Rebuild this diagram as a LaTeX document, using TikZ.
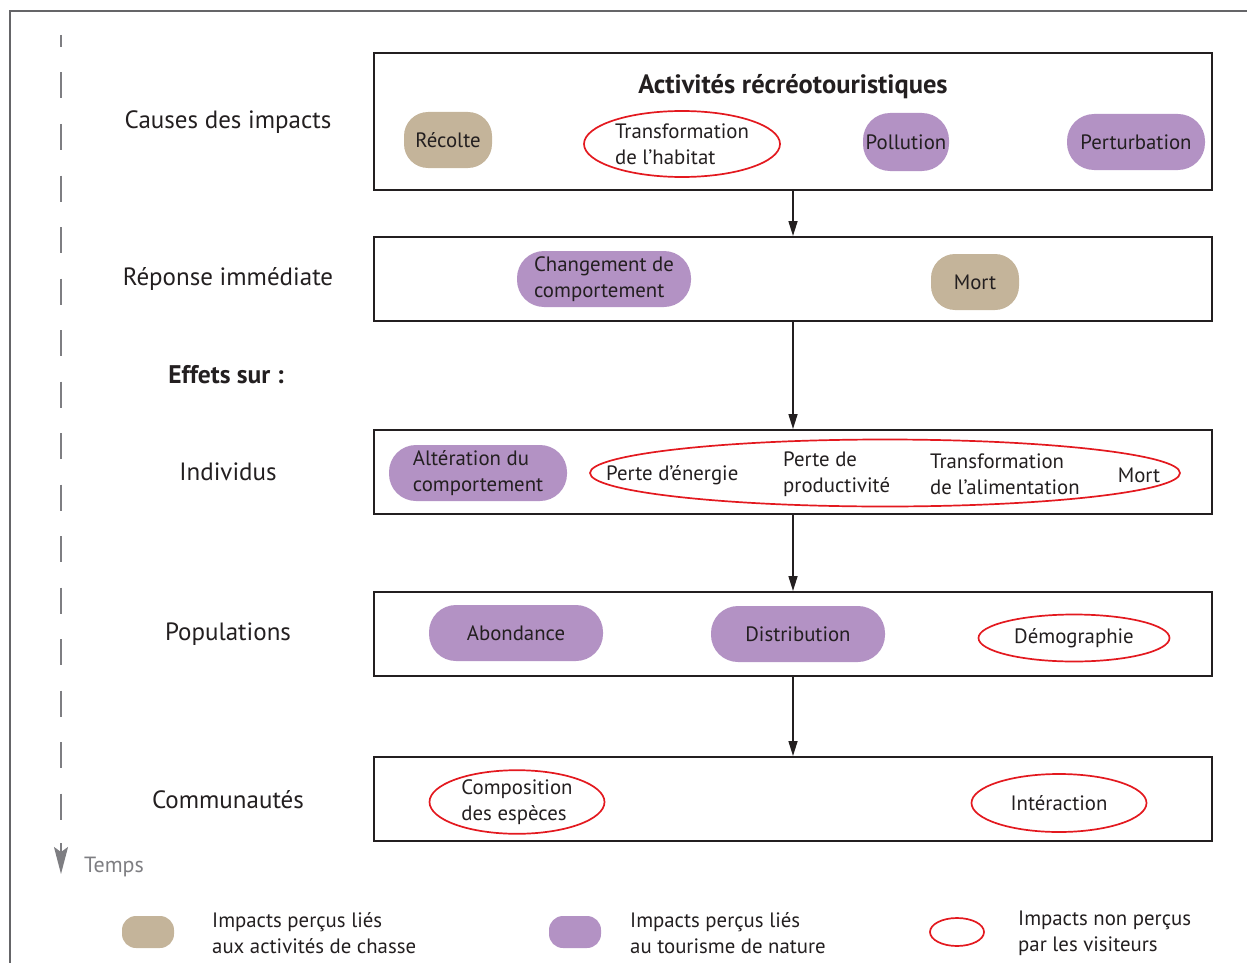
\documentclass[tikz,border=0pt]{standalone}
\usepackage{fontspec}
\setmainfont{PT Sans}
\usepackage{xcolor}
\usetikzlibrary{positioning,arrows.meta,shapes.geometric}
\definecolor{chasse}{HTML}{C4B49A}
\definecolor{nature}{HTML}{B392C4}
\definecolor{nonpercu}{HTML}{E3191F}
\definecolor{tempsgray}{HTML}{7E7E82}
\definecolor{ink}{HTML}{231F20}

\begin{document}
\begin{tikzpicture}[
  x=1pt, y=-1pt,
  level/.style={draw=ink, line width=2pt, minimum width=838pt, minimum height=84pt, inner sep=0pt},
  lbl/.style={font=\fontsize{25}{28}\selectfont, text=ink},
  itm/.style={font=\fontsize{20.8}{26}\selectfont, align=left, inner sep=0pt, text=ink},
  hunt/.style={itm, fill=chasse, rounded corners=24pt, minimum width=88pt, minimum height=56pt},
  tour/.style={itm, fill=nature, rounded corners=27pt, minimum height=56pt},
  unseen/.style={itm, ellipse, draw=nonpercu, line width=1.7pt, minimum height=60pt},
  arr/.style={-{Triangle[length=15pt,width=9pt]}, line width=1.6pt, draw=ink}
]
\useasboundingbox (0,0) rectangle (1247,963);
\draw[tempsgray!80!black, line width=1.2pt] (10,963) -- (10,11) -- (1247,11);

\node[level, minimum height=137pt] (cause) at (793,121.5) {};
\node[level] (rep) at (793,279) {};
\node[level] (indiv) at (793,472) {};
\node[level] (pop) at (793,634) {};
\node[level] (comm) at (793,799) {};
\draw[arr] (cause) -- (rep);
\draw[arr] (rep) -- (indiv);
\draw[arr] (indiv) -- (pop);
\draw[arr] (pop) -- (comm);

\node[lbl] (lcause) at (228,122) {Causes des impacts};
\node[lbl] (lrep) at (228,279) {Réponse immédiate};
\node[lbl, font=\fontsize{25.5}{28}\selectfont\bfseries] (leffets) at (226,375) {Effets sur :};
\node[lbl] (lindiv) at (228,472) {Individus};
\node[lbl] (lpop) at (228,634) {Populations};
\node[lbl] (lcomm) at (228,800) {Communautés};

\node[itm, font=\fontsize{26.5}{30}\selectfont\bfseries] (titre) at (793,87) {Activités récréotouristiques};
\node[hunt] (recolte) at (448,140) {Récolte};
\node[unseen, minimum width=196pt, minimum height=66pt] (habitat) at (682,144) {Transformation\\de l’habitat};
\node[tour, minimum width=86pt, minimum height=58pt] (pollution) at (906,142) {Pollution};
\node[tour, minimum width=138pt] (perturb) at (1136,142) {Perturbation};

\node[tour, minimum width=174pt] (changement) at (604,279) {Changement de\\comportement};
\node[hunt] (mort) at (975,282) {Mort};

\node[tour, minimum width=178pt] (alteration) at (478,473) {Altération du\\comportement};
\node[unseen, minimum width=590pt, minimum height=67pt] (effets) at (885,473) {};
\node[itm, anchor=west] (energie) at (606,475) {Perte d’énergie};
\node[itm, anchor=west] (product) at (783,474) {Perte de\\productivité};
\node[itm, anchor=west] (aliment) at (930,474) {Transformation\\de l’alimentation};
\node[itm] (mortind) at (1139,475) {Mort};

\node[tour, minimum width=174pt] (abondance) at (516,633) {Abondance};
\node[tour, minimum width=174pt] (distrib) at (798,634) {Distribution};
\node[unseen, minimum width=191pt, minimum height=47pt] (demo) at (1074,638) {Démographie};

\node[unseen, minimum width=175pt, minimum height=57pt] (compo) at (517,802) {Composition\\des espèces};
\node[unseen, minimum width=175pt, minimum height=58pt] (interact) at (1059,803) {Intéraction};

\coordinate (t0) at (61,35);
\coordinate (t1) at (61,820);
\coordinate (t2) at (61,843);
\coordinate (t3) at (61,874);
\draw[tempsgray, line width=1.6pt, dash pattern=on 26pt off 25.5pt, dash phase=14pt] (t0) -- (t1);
\draw[tempsgray, line width=1.6pt, -{Stealth[length=27pt, width=14pt, inset=5pt]}] (t2) -- (t3);
\node[itm, text=tempsgray, font=\fontsize{22}{26}\selectfont] (temps) at (114,867) {Temps};

\node[hunt, minimum width=52pt, minimum height=32pt, rounded corners=14pt] (legchasse) at (148,932) {};
\node[itm, anchor=west] (txtchasse) at (212,933) {Impacts perçus liés\\aux activités de chasse};
\node[tour, minimum width=52pt, minimum height=32pt, rounded corners=14pt] (legnature) at (575,932) {};
\node[itm, anchor=west] (txtnature) at (630,933) {Impacts perçus liés\\au tourisme de nature};
\node[unseen, minimum width=54pt, minimum height=28pt] (legnon) at (957,932) {};
\node[itm, anchor=west] (txtnon) at (1018,933) {Impacts non perçus\\par les visiteurs};
\end{tikzpicture}
\end{document}
